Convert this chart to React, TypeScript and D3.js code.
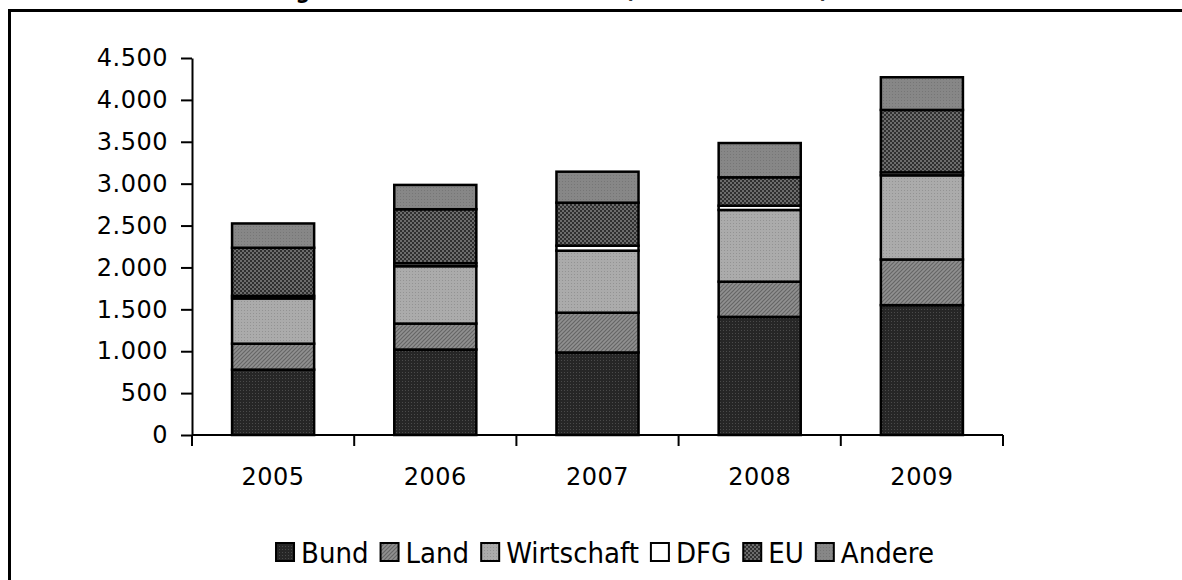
import React, { useEffect, useRef } from 'react';
import * as d3 from 'd3';

// data (Tsd. Euro)
const years = ['2005', '2006', '2007', '2008', '2009'];
const bund = [780, 1020, 985, 1410, 1550];
const land = [310, 310, 475, 420, 545];
const wirtschaft = [540, 685, 740, 856, 1005];
const dfg = [30, 35, 60, 51, 35];
const eu = [575, 645, 513, 339, 745];
const andere = [290, 290, 370, 409, 390];
const seriesNames = ['Bund', 'Land', 'Wirtschaft', 'DFG', 'EU', 'Andere'];
const yTicks = [0, 500, 1000, 1500, 2000, 2500, 3000, 3500, 4000, 4500];
const title = 'Entwicklung der Drittmitteleinnahmen (in Tausend Euro)';

const W = 1182;
const H = 580;
const axisFont = '"DejaVu Sans", sans-serif';
const legendFont = '"DejaVu Sans Condensed", "DejaVu Sans", sans-serif';

function App() {
  const svgRef = useRef<SVGSVGElement>(null);

  useEffect(() => {
    const svg = d3.select(svgRef.current);
    svg.selectAll('*').remove();

    const table = years.map((yr, i) => ({
      year: yr,
      Bund: bund[i],
      Land: land[i],
      Wirtschaft: wirtschaft[i],
      DFG: dfg[i],
      EU: eu[i],
      Andere: andere[i],
    }));
    const stacked = d3.stack<any>().keys(seriesNames)(table);

    // fill patterns (grey print look)
    const defs = svg.append('defs');
    const pat = (id, size, base) => {
      const p = defs
        .append('pattern')
        .attr('id', id)
        .attr('patternUnits', 'userSpaceOnUse')
        .attr('width', size)
        .attr('height', size);
      p.append('rect').attr('width', size).attr('height', size).attr('fill', base);
      return p;
    };
    let p = pat('pBund', 3, '#262626');
    p.append('rect').attr('x', 0).attr('y', 0).attr('width', 1).attr('height', 1).attr('fill', '#4a4a4a');
    p = pat('pLand', 4, '#909090');
    p.append('path').attr('d', 'M0,4 L4,0 M-1,1 L1,-1 M3,5 L5,3').attr('stroke', '#656565').attr('stroke-width', 1.2);
    p = pat('pWirt', 3, '#ababab');
    p.append('rect').attr('x', 1).attr('y', 1).attr('width', 1).attr('height', 1).attr('fill', '#939393');
    p = pat('pDFG', 4, '#ffffff');
    p = pat('pEU', 4, '#2f2f2f');
    p.append('rect').attr('x', 0).attr('y', 0).attr('width', 2).attr('height', 2).attr('fill', '#6c6c6c');
    p.append('rect').attr('x', 2).attr('y', 2).attr('width', 2).attr('height', 2).attr('fill', '#6c6c6c');
    p = pat('pAndere', 3, '#878787');
    p.append('rect').attr('x', 1).attr('y', 1).attr('width', 1).attr('height', 1).attr('fill', '#767676');
    const fillOf = {
      Bund: 'url(#pBund)',
      Land: 'url(#pLand)',
      Wirtschaft: 'url(#pWirt)',
      DFG: 'url(#pDFG)',
      EU: 'url(#pEU)',
      Andere: 'url(#pAndere)',
    };

    svg.append('rect').attr('width', W).attr('height', H).attr('fill', '#fff');

    // title, mostly cut off at the top edge (as in the source)
    svg
      .append('text')
      .attr('x', 168)
      .attr('y', -2)
      .style('font-family', legendFont)
      .style('font-weight', 'bold')
      .style('font-size', '23px')
      .text(title);

    // outer frame
    svg
      .append('rect')
      .attr('x', 9.5)
      .attr('y', 10.5)
      .attr('width', W + 20)
      .attr('height', H + 20)
      .attr('fill', 'none')
      .attr('stroke', '#000')
      .attr('stroke-width', 3);

    const x0 = 192;
    const x1 = 1003;
    const x = d3.scaleBand().domain(years).range([x0, x1]).paddingInner(0.494).paddingOuter(0.247);
    const y = d3.scaleLinear().domain([0, 4500]).range([435, 58]);
    const fmt = d3.formatLocale({ decimal: ',', thousands: '.', grouping: [3], currency: ['', '€'] }).format(',');

    // bars
    svg
      .append('g')
      .selectAll('g')
      .data(stacked)
      .join('g')
      .attr('fill', d => fillOf[d.key])
      .selectAll('rect')
      .data(d => d)
      .join('rect')
      .attr('x', d => x(d.data.year))
      .attr('width', x.bandwidth())
      .attr('y', d => y(d[1]))
      .attr('height', d => y(d[0]) - y(d[1]))
      .attr('stroke', '#000')
      .attr('stroke-width', 2.5);

    // y axis
    const yAxis = svg
      .append('g')
      .attr('transform', `translate(${x0},0)`)
      .call(d3.axisLeft(y).tickValues(yTicks).tickSize(11).tickPadding(13).tickFormat(d => fmt(d)).tickSizeOuter(0));
    yAxis.select('.domain').attr('stroke', '#000').attr('stroke-width', 2);
    yAxis.selectAll('.tick line').attr('stroke', '#000').attr('stroke-width', 2);
    yAxis
      .selectAll('.tick text')
      .attr('fill', '#000')
      .style('font-family', axisFont)
      .style('font-size', '24px')
      .style('letter-spacing', '0.5px');

    // x axis with ticks between categories
    const step = x.step();
    const bounds = d3.range(years.length + 1).map(i => x0 + i * step);
    const gx = svg.append('g');
    gx.append('line')
      .attr('x1', x0)
      .attr('x2', x1)
      .attr('y1', y(0))
      .attr('y2', y(0))
      .attr('stroke', '#000')
      .attr('stroke-width', 2);
    gx.selectAll('line.t')
      .data(bounds)
      .join('line')
      .attr('class', 't')
      .attr('x1', d => d)
      .attr('x2', d => d)
      .attr('y1', y(0))
      .attr('y2', y(0) + 11)
      .attr('stroke', '#000')
      .attr('stroke-width', 2);
    gx.selectAll('text')
      .data(years)
      .join('text')
      .attr('x', d => x(d) + x.bandwidth() / 2)
      .attr('y', 485)
      .attr('text-anchor', 'middle')
      .style('font-family', axisFont)
      .style('font-size', '24px')
      .style('letter-spacing', '0.5px')
      .text(d => d);

    // legend
    const lg = svg.append('g');
    const sq = 18;
    const gapText = 7;
    const gapItem = 12;
    let cx = 0;
    seriesNames.forEach(name => {
      lg.append('rect')
        .attr('x', cx)
        .attr('y', 543)
        .attr('width', sq)
        .attr('height', sq)
        .attr('fill', fillOf[name])
        .attr('stroke', '#000')
        .attr('stroke-width', 2);
      const t = lg
        .append('text')
        .attr('x', cx + sq + gapText)
        .attr('y', 563)
        .style('font-family', legendFont)
        .style('font-size', '29px')
        .text(name);
      const w = (t.node() as SVGTextElement).getComputedTextLength();
      cx += sq + gapText + w + gapItem;
    });
    const total = cx - gapItem;
    lg.attr('transform', `translate(${605 - total / 2},0)`);
  }, []);

  return (
    <svg
      ref={svgRef}
      width={W}
      height={H}
      style={{ position: 'absolute', left: 0, top: 0, display: 'block' }}
    />
  );
}

export default App;
